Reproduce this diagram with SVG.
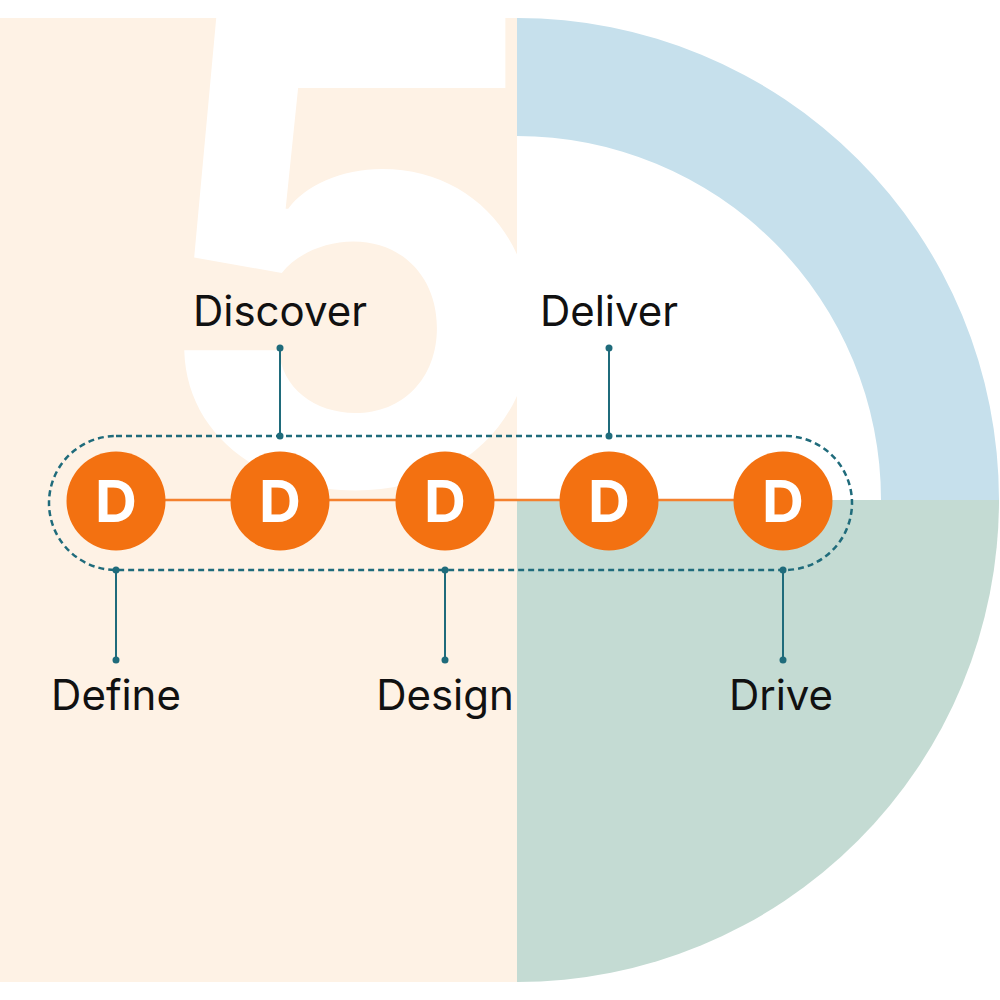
<svg xmlns="http://www.w3.org/2000/svg" width="1000" height="1000" viewBox="0 0 1000 1000">
<defs>
<style>
.lbl{font-family:Inter,"Noto Sans","Liberation Sans",sans-serif;font-size:42px;fill:#111;text-anchor:middle}
.dl{font-family:Inter,"Liberation Sans",sans-serif;font-size:58px;font-weight:700;fill:#fff;text-anchor:middle}
.node circle{fill:#f37111}
.lead{stroke:#1f6b7b;stroke-width:2}
.dot{fill:#1f6b7b}
</style>
<clipPath id="leftclip"><rect x="0" y="18" width="517" height="964"/></clipPath>
</defs>
<rect width="1000" height="1000" fill="#fff"/>
<g id="background">
<rect x="0" y="18" width="517" height="964" fill="#fef2e5"/>
<text x="143" y="484" clip-path="url(#leftclip)" font-family="Inter,'Liberation Sans',sans-serif" font-weight="700" font-size="655" fill="#fff">5</text>
<path d="M517 18 A482 482 0 0 1 999 500 L881 500 A364 364 0 0 0 517 136 Z" fill="#c6e0ec"/>
<path d="M517 500 L999 500 A482 482 0 0 1 517 982 Z" fill="#c4dbd3"/>
</g>
<g id="connectors">
<line x1="116" y1="500" x2="783" y2="500" stroke="#f4812e" stroke-width="2.5"/>
<rect x="49" y="436" width="803" height="134" rx="67" fill="none" stroke="#1f6b7b" stroke-width="2.5" stroke-dasharray="6 4"/>
<line class="lead" x1="280" y1="348" x2="280" y2="436"/>
<line class="lead" x1="609" y1="348" x2="609" y2="436"/>
<line class="lead" x1="116" y1="570" x2="116" y2="660"/>
<line class="lead" x1="445" y1="570" x2="445" y2="660"/>
<line class="lead" x1="783" y1="570" x2="783" y2="660"/>
<circle class="dot" cx="280" cy="348" r="3.5"/><circle class="dot" cx="280" cy="436" r="3.5"/>
<circle class="dot" cx="609" cy="348" r="3.5"/><circle class="dot" cx="609" cy="436" r="3.5"/>
<circle class="dot" cx="116" cy="570" r="3.5"/><circle class="dot" cx="116" cy="660" r="3.5"/>
<circle class="dot" cx="445" cy="570" r="3.5"/><circle class="dot" cx="445" cy="660" r="3.5"/>
<circle class="dot" cx="783" cy="570" r="3.5"/><circle class="dot" cx="783" cy="660" r="3.5"/>
</g>
<g id="node-define" class="node"><circle cx="116" cy="501" r="49.5"/><text class="dl" x="116" y="522">D</text><text class="lbl" x="116" y="710">Define</text></g>
<g id="node-discover" class="node"><circle cx="280" cy="501" r="49.5"/><text class="dl" x="280" y="522">D</text><text class="lbl" x="280" y="326">Discover</text></g>
<g id="node-design" class="node"><circle cx="445" cy="501" r="49.5"/><text class="dl" x="445" y="522">D</text><text class="lbl" x="445" y="710">Design</text></g>
<g id="node-deliver" class="node"><circle cx="609" cy="501" r="49.5"/><text class="dl" x="609" y="522">D</text><text class="lbl" x="609" y="326">Deliver</text></g>
<g id="node-drive" class="node"><circle cx="783" cy="501" r="49.5"/><text class="dl" x="783" y="522">D</text><text class="lbl" x="781" y="710">Drive</text></g>
</svg>
